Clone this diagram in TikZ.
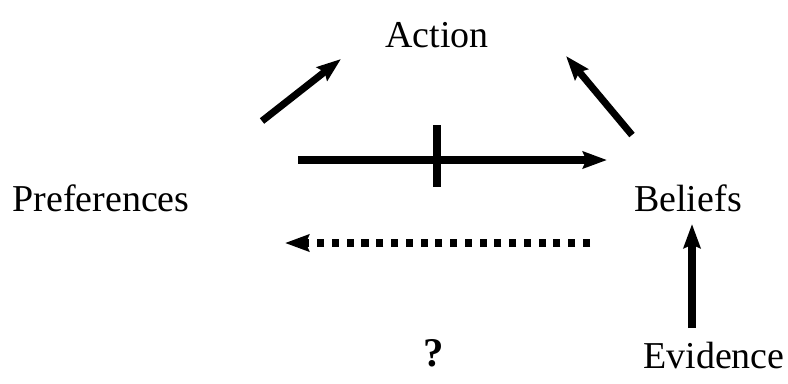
\documentclass[tikz,border=0pt]{standalone}
\usepackage{fontspec}
\setmainfont{Liberation Serif}
\usetikzlibrary{arrows.meta}

\begin{document}
\begin{tikzpicture}[
    x=0.025cm, y=-0.025cm,
    label/.style={font=\fontsize{27}{30}\selectfont, inner sep=0pt, anchor=base},
    arrow/.style={-{Stealth[length=0.6cm, width=0.42cm, inset=0.08cm]}, line width=5pt},
    dotarrow/.style={arrow, dash pattern=on 5pt off 5.5pt}
]
\useasboundingbox (0,0) rectangle (788,383);

% Labels
\node[label] (action) at (437,47) {Action};
\node[label] (pref) at (101,211) {Preferences};
\node[label] (beliefs) at (688,211) {Beliefs};
\node[label] (evidence) at (714,368) {Evidence};
\node[label, font=\fontsize{29}{30}\selectfont\bfseries] (query) at (434,366) {?};

% Arrow ends
\coordinate (p1) at (262,121);
\coordinate (p2) at (341,59);
\coordinate (b1) at (632,135);
\coordinate (b2) at (566,56);
\coordinate (h1) at (298,160);
\coordinate (h2) at (607,160);
\coordinate (d1) at (590,243);
\coordinate (d2) at (285,243);
\coordinate (e1) at (692,328);
\coordinate (e2) at (692,224);
\coordinate (c1) at (437,125);
\coordinate (c2) at (437,187);

% Arrows
\draw[arrow] (p1) -- (p2);
\draw[arrow] (b1) -- (b2);
\draw[arrow] (h1) -- (h2);
\draw[line width=6pt] (c1) -- (c2);
\draw[dotarrow] (d1) -- (d2);
\draw[arrow] (e1) -- (e2);

\end{tikzpicture}
\end{document}
